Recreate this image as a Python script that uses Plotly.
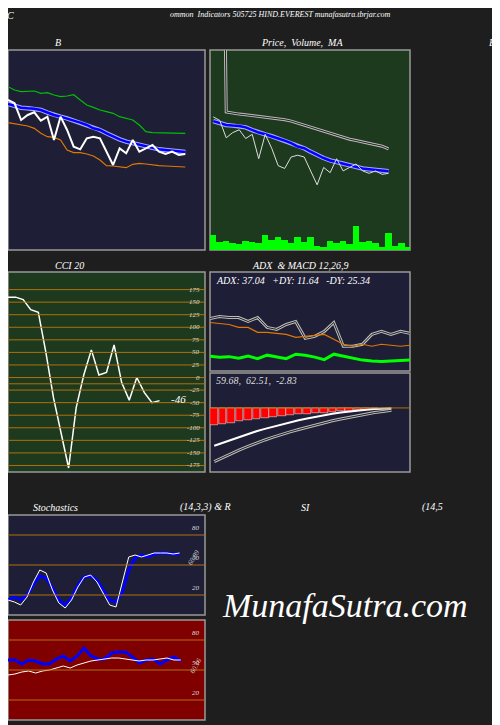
import plotly.graph_objects as go

# ---------- data ----------
close = [150,145,120,127.5,131.5,119,125,90,125,105,80,76,92.5,95,92.5,72.5,52.5,77.5,70,90,72.5,77.5,82.5,72.5,69,72.5,67.5,69]
bb_upper = [170,165,162.5,162.5,163.5,160,161,157.5,155,156,158,150,142.5,139,135,132.5,130,125,122.5,120,112.5,102.5,101,101,100,100,100,100]
bb_mid = [144,141,138.5,137.5,137,135,131,127.5,125,122.5,119,116,112.5,107.5,105,100,95,91,87.5,85,82.5,80,78,76,75,74,73,72]
bb_lower = [116,114,112.5,111,107.5,100,95,94,90,75,71,71,69,66,60,51.5,51,50,48.5,53.5,55,54,52.5,51.5,51,50.5,50,49.5]
ma_long = [900,900,157,155,154,153,152,151,150,149,148,146,144,141,138,135,132,129,126,123,120,118,116,114,112,110,108,104]
volume = [45,25,28,22,18,28,24,22,45,30,38,30,20,38,25,38,12,10,28,20,28,18,72,24,28,22,10,52,12,20,10,12]

cci = [160,160,155,135,130,50,-40,-110,-180,-60,5,55,5,10,65,-10,-45,0,-30,-50,-46]

adx_line = [53,55,54,54,50,54,44,42,47,50,33,35,40,49,25,25,27,37,40,37,40,38]
adx_orange = [49,48,47,44,44,39,39,38,37,34,35,36,37,32,27,25,27,25,27,26,25,26]
adx_green = [15,14,14.5,13,15,12.5,16,14,12.5,17,16,14,11.5,17,15,13,11,10,9.5,10,10.5,11]

macd = [-65,-60,-54,-49,-44,-40,-36,-32,-28,-24,-21,-18,-15,-12,-10,-8,-6,-4.5,-3,-2,-1,-0.5]
macd_signal = [-92,-85,-78,-72,-66,-60,-55,-50,-45,-41,-37,-33,-29,-25,-22,-19,-16,-13,-10,-8,-6,-4]
macd_hist = [-30,-27,-25,-23,-21,-19,-17,-15.5,-14,-12.5,-11,-10,-9,-8,-7,-6,-5,-4,-3,-2]

stoch_k = [15,13,10,18,33,45,42,25,12,7,15,28,38,40,33,22,10,8,32,58,60,58,60,62,62,62,61,62]
stoch_d = [15,18,15,20,30,39,37,27,15,10,17,30,38,39,35,25,15,13,23,45,57,60,58,61,62,62,61,61]

rsi_blue = [60,60,56,60,59,56,56,61,64,59,64,72,64,61,61,67,68,68,63,57,60,61,56,60,63,59]
rsi_white = [45,46,48,49,47,49,50,52,54,52,55,57,59,60,61,62,62,61,60,59,60,60,61,62,60,60]

cci_ticks = [175,150,125,100,75,50,25,0,-25,-50,-75,-100,-125,-150,-175]
stoch_ticks = [80,50,20]

# ---------- layout helpers ----------
OFF = 8
W, H = 492, 717
def clamp(v): return min(1.0, max(0.0, v))
def dx(a, b): return [clamp((a - OFF) / W), clamp((b - OFF) / W)]
def dy(top, bot): return [clamp(1 - (bot - OFF) / H), clamp(1 - (top - OFF) / H)]
def px(x): return (x - OFF) / W
def py(y): return 1 - (y - OFF) / H

NAVY = "#1e1e36"
GREEN = "#1e3a1e"
RED = "#800000"
GRID = "#b0700a"
FONT = "Liberation Serif"

panels = {
    1: (dx(8, 205), dy(50, 250), NAVY),
    2: (dx(210, 410), dy(50, 250), GREEN),
    3: (dx(8, 205), dy(272, 472), GREEN),
    4: (dx(210, 410), dy(272, 371), NAVY),
    5: (dx(210, 410), dy(373, 472), NAVY),
    6: (dx(8, 205), dy(515, 615), NAVY),
    7: (dx(8, 205), dy(620, 720), RED),
}

fig = go.Figure()
def ax(i): return ("x" if i == 1 else f"x{i}"), ("y" if i == 1 else f"y{i}")

def line(i, y, color, width):
    xa, ya = ax(i)
    fig.add_trace(go.Scatter(x=list(range(len(y))), y=y, mode="lines",
                             line=dict(color=color, width=width), xaxis=xa, yaxis=ya,
                             hoverinfo="skip", showlegend=False))

def dline(i, y, width=3):
    line(i, y, "#bbbbbb", width)
    line(i, y, "#222222", 1)

line(1, bb_upper, "#00c000", 1.2)
line(1, bb_lower, "#e07800", 1.2)
line(1, bb_mid, "#aaaaff", 4.5)
line(1, bb_mid, "#0000ff", 2.5)
line(1, close, "#ffffff", 2)

fig.add_trace(go.Bar(x=list(range(len(volume))), y=volume, marker=dict(color="#00ff00", line_width=0),
                     width=1.0, xaxis="x2", yaxis="y8", showlegend=False, hoverinfo="skip"))
dline(2, ma_long)
line(2, bb_mid, "#aaaaff", 4.5)
line(2, bb_mid, "#0000ff", 2.5)
line(2, close, "#dddddd", 1)

line(3, cci, "#ffffff", 1.5)

dline(4, adx_line)
line(4, adx_orange, "#e07800", 1.2)
line(4, adx_green, "#00ff00", 3)

fig.add_trace(go.Bar(x=list(range(len(macd_hist))), y=macd_hist,
                     marker=dict(color="#ff0000", line=dict(color="#ffffff", width=0.5)),
                     width=0.9, xaxis="x5", yaxis="y5", showlegend=False, hoverinfo="skip"))
dline(5, macd_signal)
line(5, macd, "#ffffff", 2)

line(6, stoch_d, "#0000ff", 3)
line(6, stoch_k, "#ffffff", 1)
line(7, rsi_blue, "#0000ff", 3)
line(7, rsi_white, "#ffffff", 1)

yranges = {1: [-75, 225], 2: [-41, 246], 3: [-188, 210], 4: [0, 100], 5: [-110, 60], 6: [0, 100], 7: [0, 100]}
xranges = {1: [0, 30], 2: [-0.5, 30.3], 3: [0, 26], 4: [0, 21], 5: [-0.5, 23.2], 6: [0, 31], 7: [0, 28.5]}

layout = dict(width=W, height=H, margin=dict(l=0, r=0, t=0, b=0),
              paper_bgcolor="#1e1e1e", plot_bgcolor="#1e1e1e", bargap=0,
              font=dict(family=FONT, color="#ffffff", size=10))
shapes = []
for i, (xd, yd, bg) in panels.items():
    xk = "xaxis" if i == 1 else f"xaxis{i}"
    yk = "yaxis" if i == 1 else f"yaxis{i}"
    xr, yr = ax(i)
    layout[xk] = dict(domain=xd, range=xranges[i], visible=False, anchor=yr)
    layout[yk] = dict(domain=yd, range=yranges[i], visible=False, anchor=xr)
    shapes.append(dict(type="rect", xref="paper", yref="paper", x0=xd[0], x1=xd[1], y0=yd[0], y1=yd[1],
                       fillcolor=bg, line=dict(color="#999999", width=1.5), layer="below"))
layout["yaxis8"] = dict(domain=dy(50, 250), range=[0, 600], visible=False, anchor="x2", overlaying="y2")

annotations = []
def txt(x, y, s, size=10, xanchor="center", color="#ffffff", xref="paper", yref="paper", angle=0, yanchor="middle"):
    annotations.append(dict(x=x, y=y, text=s, showarrow=False, xref=xref, yref=yref, xanchor=xanchor,
                            yanchor=yanchor, textangle=angle,
                            font=dict(family=FONT, size=size, color=color, style="italic")))

for t in cci_ticks:
    shapes.append(dict(type="line", xref="x3 domain", yref="y3", x0=0, x1=1, y0=t, y1=t, line=dict(color=GRID, width=1)))
    txt(0.985, t, str(t), 7, "right", "#dddddd", "x3 domain", "y3")
shapes.append(dict(type="line", xref="x3 domain", yref="y3", x0=0, x1=1, y0=-12.5, y1=-12.5, line=dict(color=GRID, width=1)))
txt(len(cci) + 0.3, cci[-1] + 3, str(cci[-1]), 11, "left", "#ffffff", "x3", "y3")

for i in (6, 7):
    for t in stoch_ticks:
        shapes.append(dict(type="line", xref=f"x{i} domain", yref=f"y{i}", x0=0, x1=1, y0=t, y1=t, line=dict(color=GRID, width=1)))
        txt(0.985, t + 7, str(t), 7, "right", "#dddddd", f"x{i} domain", f"y{i}")
txt(len(stoch_k) + 1.2, stoch_k[-1] - 5, "60.89", 7, "center", "#cccccc", "x6", "y6", -60)
txt(len(rsi_blue) + 1.2, rsi_blue[-1] - 5, "60.16", 7, "center", "#cccccc", "x7", "y7", -60)

shapes.append(dict(type="line", xref="x5 domain", yref="y5", x0=0, x1=1, y0=0, y1=0, line=dict(color=GRID, width=1)))

txt(px(10), 1, "C", 10, yanchor="top")
txt(px(280), 1, "ommon  Indicators 505725 HIND.EVEREST munafasutra.tbrjar.com", 8, yanchor="top")
txt(px(58), py(42), "B", 10)
txt(px(302), py(42), "Price,  Volume,  MA", 10)
txt(px(497), py(42), "B", 10, "right")
txt(px(70), py(265), "CCI 20", 10)
txt(px(300), py(265), "ADX  & MACD 12,26,9", 10)
txt(px(55), py(507), "Stochastics", 10)
txt(px(205), py(507), "(14,3,3) & R", 10)
txt(px(305), py(507), "SI", 10)
txt(px(420), py(507), "(14,5", 10, "left")
txt(px(214), py(280), "ADX: 37.04   +DY: 11.64   -DY: 25.34", 10, "left")
txt(px(214), py(380), "59.68,  62.51,  -2.83", 10, "left", "#dddddd")
txt(px(345), py(605), "MunafaSutra.com", 34)

layout["shapes"] = shapes
layout["annotations"] = annotations
fig.update_layout(**layout)
fig.write_html("out.html")
